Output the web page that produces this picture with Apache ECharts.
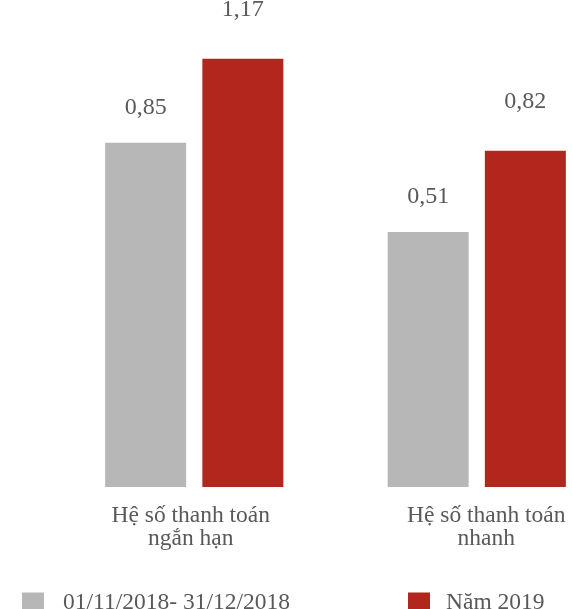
<!DOCTYPE html>
<html>
<head>
<meta charset="utf-8">
<script src="https://cdn.jsdelivr.net/npm/echarts@6/dist/echarts.min.js"></script>
<style>
html,body{margin:0;padding:0;background:#fff;}
#chart{width:572px;height:609px;}
</style>
</head>
<body>
<div id="chart"></div>
<script>
var categories = ['Hệ số thanh toán\nngắn hạn', 'Hệ số thanh toán\nnhanh'];
var seriesNames = ['01/11/2018- 31/12/2018', 'Năm 2019'];
var values2018 = [0.85, 0.51];
var values2019 = [1.17, 0.82];

var FONT = '"Liberation Serif", "DejaVu Serif", serif';
var TEXT = '#595959';
var GRAY = '#b7b7b7';
var RED = '#b2261e';

var chart = echarts.init(document.getElementById('chart'), null, {renderer: 'canvas'});

function fmt(v) { return String(v.toFixed(2)).replace('.', ','); }

var option = {
  animation: false,
  backgroundColor: '#ffffff',
  grid: {left: 53, width: 565, top: 14, bottom: 122, containLabel: false, outerBoundsMode: 'none'},
  legend: [
    {
      data: [seriesNames[0]], left: 17, top: 586, icon: 'rect',
      itemWidth: 22, itemHeight: 21,
      textStyle: {fontFamily: FONT, fontSize: 23.5, color: TEXT, padding: [0, 0, 0, 14]}
    },
    {
      data: [seriesNames[1]], left: 403, top: 586, icon: 'rect',
      itemWidth: 22, itemHeight: 21,
      textStyle: {fontFamily: FONT, fontSize: 23.5, color: TEXT, padding: [0, 0, 0, 11]}
    }
  ],
  xAxis: {
    type: 'category',
    data: categories,
    axisLine: {show: false},
    axisTick: {show: false},
    axisLabel: {
      margin: 17,
      interval: 0,
      formatter: function (v, i) {
        var tag = i === 0 ? 'a' : 'b';
        return v.split('\n').map(function (s) { return '{' + tag + '|' + s + '}'; }).join('\n');
      },
      rich: {
        a: {fontFamily: FONT, fontSize: 23.5, color: TEXT, lineHeight: 23, padding: [0, 7, 0, 0]},
        b: {fontFamily: FONT, fontSize: 23.5, color: TEXT, lineHeight: 23, padding: [0, 0, 0, 19]}
      }
    }
  },
  yAxis: {
    type: 'value',
    min: -0.46,
    max: 1.34,
    startValue: -0.46,
    show: false,
    splitLine: {show: false}
  },
  series: [
    {
      name: seriesNames[0],
      type: 'bar',
      data: values2018,
      barWidth: 81,
      barGap: '20%',
      itemStyle: {color: GRAY},
      label: {
        show: true, position: 'top', distance: 23,
        fontFamily: FONT, fontSize: 24, color: TEXT,
        formatter: function (p) { return fmt(p.value); }
      }
    },
    {
      name: seriesNames[1],
      type: 'bar',
      data: values2019,
      barWidth: 81,
      barGap: '20%',
      itemStyle: {color: RED},
      label: {
        show: true, position: 'top', distance: 37,
        fontFamily: FONT, fontSize: 24, color: TEXT,
        formatter: function (p) { return fmt(p.value); }
      }
    }
  ]
};
chart.setOption(option);
</script>
</body>
</html>
